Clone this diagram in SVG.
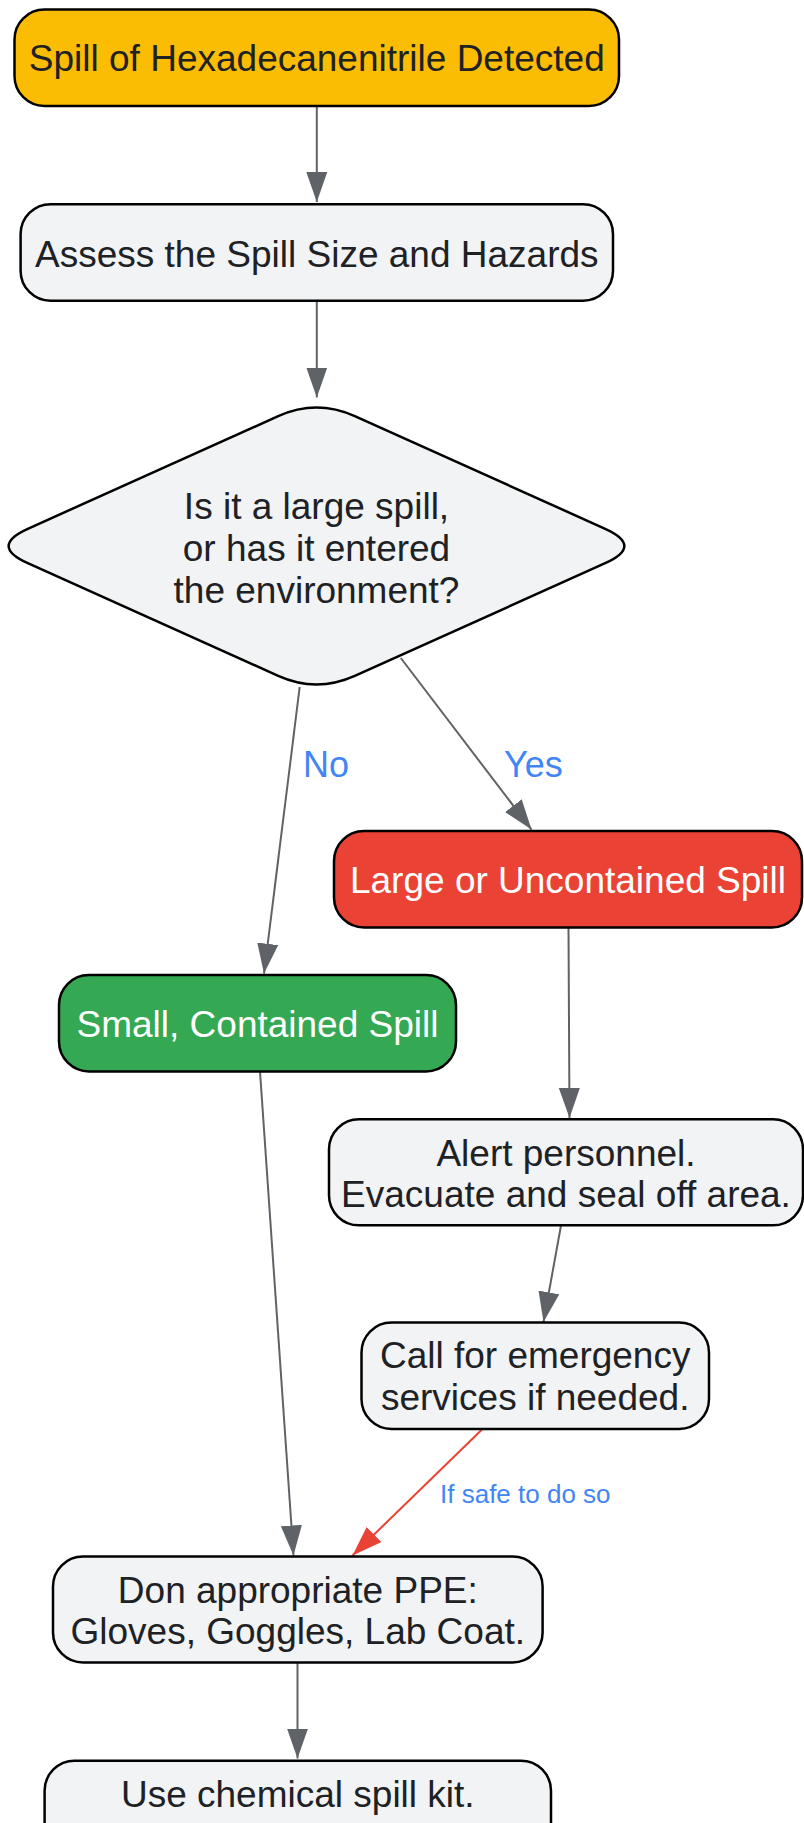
<svg xmlns="http://www.w3.org/2000/svg" width="804" height="1823" viewBox="0 0 804 1823">
<defs>
<style>
.node{stroke:#000;stroke-width:2.5}
.gray{fill:#f1f3f4}
.t{font-family:"Liberation Sans",Arial,sans-serif;font-size:37px;fill:#202124;text-anchor:middle}
.w{fill:#ffffff}
.e{fill:none;stroke:#5f6368;stroke-width:2}
.er{fill:none;stroke:#ea4335;stroke-width:2}
.lbl{font-family:"Liberation Sans",Arial,sans-serif;font-size:36px;fill:#4285f4}
.lbls{font-family:"Liberation Sans",Arial,sans-serif;font-size:26px;fill:#4285f4}
</style>
<marker id="ag" markerUnits="userSpaceOnUse" markerWidth="30" markerHeight="21" refX="30" refY="10.5" orient="auto"><path d="M0,0 L30,10.5 L0,21 Z" fill="#5f6368"/></marker>
<marker id="ar" markerUnits="userSpaceOnUse" markerWidth="30" markerHeight="21" refX="30" refY="10.5" orient="auto"><path d="M0,0 L30,10.5 L0,21 Z" fill="#ea4335"/></marker>
</defs>
<rect width="804" height="1823" fill="#ffffff"/>
<g id="connectors">
<path class="e" d="M316.8,106 L316.8,202" marker-end="url(#ag)"/>
<path class="e" d="M316.8,301 L316.8,397.5" marker-end="url(#ag)"/>
<path class="e" d="M299.7,687 L264,973.6" marker-end="url(#ag)"/>
<path class="e" d="M400.8,658 L531.5,829.6" marker-end="url(#ag)"/>
<path class="e" d="M568.5,928 L569.5,1118" marker-end="url(#ag)"/>
<path class="e" d="M561,1225.5 L543.5,1322" marker-end="url(#ag)"/>
<path class="e" d="M260,1071.5 L293.5,1555.5" marker-end="url(#ag)"/>
<path class="e" d="M297.5,1663 L297.5,1758.5" marker-end="url(#ag)"/>
<path class="er" d="M482,1429.5 L352.5,1555.5" marker-end="url(#ar)"/>
<text class="lbl" x="303" y="777">No</text>
<text class="lbl" x="504" y="777">Yes</text>
<text class="lbls" x="440" y="1502.5">If safe to do so</text>
</g>
<g id="n1">
<rect class="node" x="14.5" y="9.5" width="604.5" height="96.5" rx="30" ry="30" fill="#fbbc04"/>
<text class="t" x="316.8" y="71">Spill of Hexadecanenitrile Detected</text>
</g>
<g id="n2">
<rect class="node gray" x="20.6" y="204.2" width="592.4" height="96.5" rx="30" ry="30"/>
<text class="t" x="316.8" y="266.5">Assess the Spill Size and Hazards</text>
</g>
<g id="n3">
<path class="node gray" d="M278.2,416.2 Q316.5,399 354.8,416.2 L605.2,528.8 Q643.5,546 605.2,563.2 L354.8,675.8 Q316.5,693 278.2,675.8 L27.8,563.2 Q-10.5,546 27.8,528.8 Z"/>
<text class="t" x="316.5" y="518.6">Is it a large spill,</text>
<text class="t" x="316.5" y="560.7">or has it entered</text>
<text class="t" x="316.5" y="602.9">the environment?</text>
</g>
<g id="n4">
<rect class="node" x="334" y="831" width="468" height="96.5" rx="30" ry="30" fill="#ea4335"/>
<text class="t w" x="568" y="892.5">Large or Uncontained Spill</text>
</g>
<g id="n5">
<rect class="node" x="59" y="975" width="397" height="96.5" rx="30" ry="30" fill="#34a853"/>
<text class="t w" x="257.5" y="1036.5">Small, Contained Spill</text>
</g>
<g id="n6">
<rect class="node gray" x="329" y="1119.3" width="474" height="106" rx="30" ry="30"/>
<text class="t" x="566" y="1165.5">Alert personnel.</text>
<text class="t" x="566" y="1207">Evacuate and seal off area.</text>
</g>
<g id="n7">
<rect class="node gray" x="361.5" y="1322.5" width="347.5" height="106.5" rx="30" ry="30"/>
<text class="t" x="535.2" y="1368">Call for emergency</text>
<text class="t" x="535.2" y="1410">services if needed.</text>
</g>
<g id="n8">
<rect class="node gray" x="53" y="1556.5" width="489.6" height="106" rx="30" ry="30"/>
<text class="t" x="297.8" y="1602.5">Don appropriate PPE:</text>
<text class="t" x="297.8" y="1644">Gloves, Goggles, Lab Coat.</text>
</g>
<g id="n9">
<rect class="node gray" x="44.6" y="1760.7" width="506.4" height="106" rx="30" ry="30"/>
<text class="t" x="297.8" y="1806.5">Use chemical spill kit.</text>
</g>
</svg>
